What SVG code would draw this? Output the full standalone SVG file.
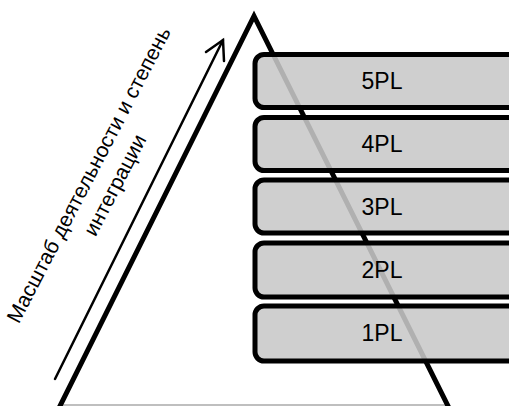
<svg xmlns="http://www.w3.org/2000/svg" width="509" height="406" viewBox="0 0 509 406">
<style>
.tri{fill:none;stroke:#000;stroke-width:5;stroke-linejoin:miter}
.box rect{fill:#c8c8c8;fill-opacity:0.88;stroke:#000;stroke-width:5}
.box text{font-family:"Liberation Sans",Arial,sans-serif;font-size:23px;fill:#000;text-anchor:middle}
.lbl{font-family:"Liberation Sans",Arial,sans-serif;font-size:21px;fill:#000;text-anchor:middle}
.arr{fill:none;stroke:#000;stroke-width:2.5;stroke-linecap:round;stroke-linejoin:miter}
</style>
<rect width="509" height="406" fill="#fff"/>
<g id="pyramid">
<line x1="60" y1="405" x2="448" y2="405" stroke="#aaa" stroke-width="1.5"/>
<polyline class="tri" points="58,410 254,16 450,410"/>
</g>
<g id="connectors">
<path class="arr" d="M55,379 L223,40"/>
<path class="arr" d="M206,52 L223,40 L224,61"/>
</g>
<text class="lbl" transform="translate(95,178) rotate(-62.5)"><tspan x="0" y="0">Масштаб деятельности и степень</tspan><tspan x="3" y="28">интеграции</tspan></text>
<g id="n5" class="box"><rect x="255" y="54.5" width="262" height="53" rx="9"/><text x="382" y="89">5PL</text></g>
<g id="n4" class="box"><rect x="255" y="117.5" width="262" height="53" rx="9"/><text x="382" y="152">4PL</text></g>
<g id="n3" class="box"><rect x="255" y="180" width="262" height="53" rx="9"/><text x="382" y="215">3PL</text></g>
<g id="n2" class="box"><rect x="255" y="243" width="262" height="54" rx="9"/><text x="382" y="278">2PL</text></g>
<g id="n1" class="box"><rect x="255" y="306" width="262" height="55" rx="9"/><text x="382" y="341">1PL</text></g>
</svg>
